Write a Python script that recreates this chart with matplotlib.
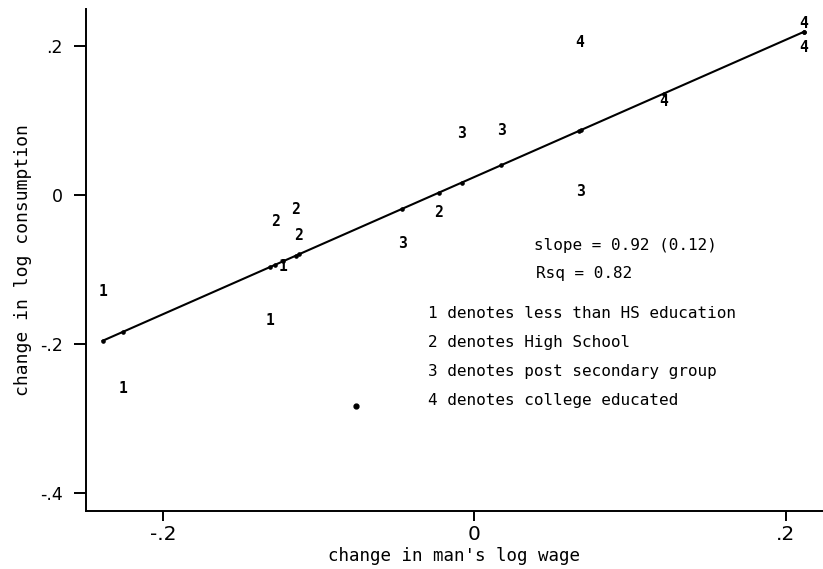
import matplotlib
matplotlib.use('Agg')
import matplotlib.pyplot as plt

# data: (change in log wage, change in log consumption)
grp1_x = [-0.2386, -0.2253, -0.1314, -0.1228]
grp1_y = [-0.130, -0.260, -0.169, -0.096]
grp2_x = [-0.1278, -0.1147, -0.1128, -0.0228]
grp2_y = [-0.036, -0.020, -0.054, -0.023]
grp3_x = [-0.0463, -0.0082, 0.0171, 0.0684]
grp3_y = [-0.065, 0.082, 0.087, 0.004]
grp4_x = [0.0673, 0.1215, 0.2116, 0.2116]
grp4_y = [0.204, 0.125, 0.230, 0.198]
stray_x = [-0.0763]
stray_y = [-0.283]

slope = 0.92
intercept = 0.024

x_ticks = [-0.2, 0.0, 0.2]
x_ticklabels = ['-.2', '0', '.2']
y_ticks = [-0.4, -0.2, 0.0, 0.2]
y_ticklabels = ['-.4', '-.2', '0', '.2']

notes = ['1 denotes less than HS education',
         '2 denotes High School',
         '3 denotes post secondary group',
         '4 denotes college educated']

fig = plt.figure(figsize=(8.23, 5.69), dpi=100)
ax = fig.add_axes([86 / 823, 1 - 511 / 569, 1 - 86 / 823, (511 - 9.3) / 569])

mono = 'DejaVu Sans Mono'

groups = [(grp1_x, grp1_y, '1'), (grp2_x, grp2_y, '2'),
          (grp3_x, grp3_y, '3'), (grp4_x, grp4_y, '4')]
all_x = []
for gx, gy, lab in groups:
    for x, y in zip(gx, gy):
        ax.text(x, y, lab, ha='center', va='center', fontsize=10.5,
                fontweight='bold', family=mono)
    all_x += gx

# fitted line with a small dot at each fitted value
all_x = sorted(all_x)
fit_y = [intercept + slope * x for x in all_x]
ax.plot(all_x, fit_y, color='black', lw=1.5, marker='o', ms=2.3)

ax.plot(stray_x, stray_y, 'o', color='black', ms=3.5)

ax.text(0.0386, -0.0684, 'slope = 0.92 (0.12)', family=mono, fontsize=11.5,
        ha='left', va='center')
ax.text(0.0394, -0.105, 'Rsq = 0.82', family=mono, fontsize=11.5,
        ha='left', va='center')
for i, line in enumerate(notes):
    ax.text(-0.0300, -0.1586 - i * 0.0389, line, family=mono, fontsize=11.5,
            ha='left', va='center')

ax.set_xlim(-0.2493, 0.2238)
ax.set_ylim(-0.4237, 0.2488)

ax.spines['top'].set_visible(False)
ax.spines['right'].set_visible(False)
ax.spines['left'].set_linewidth(1.4)
ax.spines['bottom'].set_linewidth(1.4)

ax.set_xticks(x_ticks)
ax.set_xticklabels(x_ticklabels, fontsize=14.5)
ax.set_yticks(y_ticks)
ax.set_yticklabels(y_ticklabels, fontsize=12.5)
ax.tick_params(axis='x', length=7, width=1.4, pad=3)
ax.tick_params(axis='y', length=8.6, width=1.4, pad=8)

ax.set_xlabel("change in man's log wage", family=mono, fontsize=12.6,
              labelpad=2)
ax.set_ylabel('change in log consumption', family=mono, fontsize=13,
              labelpad=6)

fig.savefig('out.png', dpi=100)
